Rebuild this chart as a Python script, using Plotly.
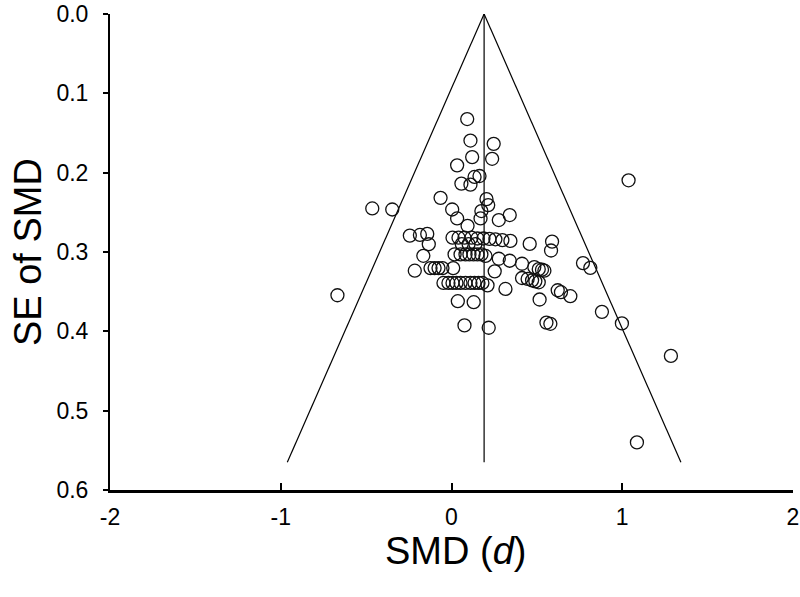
import plotly.graph_objects as go

# Study effect sizes (SMD, d) and their standard errors
smd = [
    0.092, 0.111, 0.247, 0.121, 0.238, 0.033, 0.135, 0.164, 0.058, 0.111,
    -0.064, 0.205, 0.215, 0.004, -0.347, -0.464, 0.175, 0.033, 0.170, 0.277,
    0.341, 0.094,
    -0.244, -0.185, -0.142, -0.133,
    0.006, 0.041, 0.076, 0.117, 0.152, 0.187, 0.222, 0.257, 0.298, 0.345,
    0.06, 0.10, 0.14,
    0.458, 0.589, 0.583,
    0.018, 0.053, 0.082, 0.105, 0.129, 0.152, 0.175, 0.199,
    -0.165,
    0.277, 0.341, 0.413,
    0.485, 0.511, 0.530, 0.544,
    0.770, 0.813,
    -0.215,
    -0.123, -0.099, -0.076, -0.053,
    0.010,
    0.253,
    0.413, 0.446, 0.472, 0.491, 0.511,
    -0.047, -0.018, 0.006, 0.029, 0.053, 0.082, 0.111, 0.135, 0.158, 0.181, 0.211,
    0.316,
    0.622, 0.641, 0.696,
    0.516,
    0.130, 0.037,
    0.556, 0.579,
    0.218, 0.076,
    0.881, 0.998,
    1.285, 1.086, 1.037, -0.668,
]
se = [
    0.1324, 0.1595, 0.1637, 0.1804, 0.1825, 0.1908, 0.2054, 0.2042, 0.2138, 0.2151,
    0.2317, 0.2334, 0.2409, 0.2464, 0.2464, 0.2451, 0.2484, 0.2577, 0.2577, 0.2597,
    0.2534, 0.2670,
    0.2793, 0.2785, 0.2772, 0.2902,
    0.2820, 0.2820, 0.2820, 0.2820, 0.2830, 0.2830, 0.2835, 0.2840, 0.2850, 0.2860,
    0.2900, 0.2900, 0.2900,
    0.2898, 0.2869, 0.2981,
    0.3030, 0.3030, 0.3030, 0.3030, 0.3030, 0.3030, 0.3030, 0.3050,
    0.3048,
    0.3085, 0.3110, 0.3148,
    0.3190, 0.3216, 0.3223, 0.3236,
    0.3140, 0.3200,
    0.3236,
    0.3203, 0.3203, 0.3203, 0.3203,
    0.3203,
    0.3244,
    0.3328, 0.3340, 0.3357, 0.3370, 0.3382,
    0.3390, 0.3390, 0.3390, 0.3390, 0.3390, 0.3390, 0.3390, 0.3390, 0.3390, 0.3390, 0.3420,
    0.3466,
    0.3482, 0.3507, 0.3557,
    0.3599,
    0.3633, 0.3620,
    0.3890, 0.3905,
    0.3955, 0.3925,
    0.3754, 0.3900,
    0.4310, 0.5400, 0.2096, 0.3545,
]

pooled_smd = 0.191
se_limit = 0.565
z_crit = 2.04

x_tickvals = [-2, -1, 0, 1, 2]
x_ticktext = ["-2", "-1", "0", "1", "2"]
y_tickvals = [0.0, 0.1, 0.2, 0.3, 0.4, 0.5, 0.6]
y_ticktext = ["0.0", "0.1", "0.2", "0.3", "0.4", "0.5", "0.6"]

FONT = "Liberation Sans, Arial, sans-serif"

fig = go.Figure()

# funnel: pseudo 95% confidence limits
left_x = [pooled_smd, pooled_smd - z_crit * se_limit]
right_x = [pooled_smd, pooled_smd + z_crit * se_limit]
fig.add_trace(go.Scatter(x=left_x, y=[0, se_limit], mode="lines",
                         line=dict(color="black", width=1.2), hoverinfo="skip"))
fig.add_trace(go.Scatter(x=right_x, y=[0, se_limit], mode="lines",
                         line=dict(color="black", width=1.2), hoverinfo="skip"))
fig.add_trace(go.Scatter(x=[pooled_smd, pooled_smd], y=[0, se_limit], mode="lines",
                         line=dict(color="black", width=1.2), hoverinfo="skip"))

fig.add_trace(go.Scatter(
    x=smd, y=se, mode="markers",
    marker=dict(symbol="circle-open", size=13, color="#111111", line=dict(width=1.3)),
))

fig.update_layout(
    width=800, height=597,
    margin=dict(l=110, r=7, t=14, b=107, autoexpand=False),
    plot_bgcolor="white", paper_bgcolor="white",
    showlegend=False,
    font=dict(family=FONT, color="black"),
    xaxis=dict(
        range=[-2, 2], tickvals=x_tickvals, ticktext=x_ticktext,
        showline=True, linecolor="black", linewidth=2.5, mirror=False,
        ticks="inside", ticklen=7, tickwidth=2, tickcolor="black",
        showgrid=False, zeroline=False, automargin=False,
        tickfont=dict(size=23, family=FONT), ticklabelstandoff=5,
        ticklabeloverflow="allow",
    ),
    yaxis=dict(
        range=[0.6, 0], tickvals=y_tickvals, ticktext=y_ticktext,
        showline=True, linecolor="black", linewidth=2, mirror=False,
        ticks="outside", ticklen=5, tickwidth=2, tickcolor="black",
        showgrid=False, zeroline=False, automargin=False,
        tickfont=dict(size=23, family=FONT), ticklabelstandoff=10,
        ticklabeloverflow="allow",
    ),
    annotations=[
        dict(text="SMD (<i>d</i>)", xref="paper", yref="paper", x=0.506, y=-0.128,
             xanchor="center", yanchor="middle", showarrow=False,
             font=dict(size=38, family=FONT, color="black")),
        dict(text="SE of SMD", xref="paper", yref="paper", x=-0.12, y=0.5,
             xanchor="center", yanchor="middle", textangle=-90, showarrow=False,
             font=dict(size=38, family=FONT, color="black")),
    ],
)

fig.write_html("out.html", config={"displayModeBar": False},
               post_script="document.body.style.margin='0';")
